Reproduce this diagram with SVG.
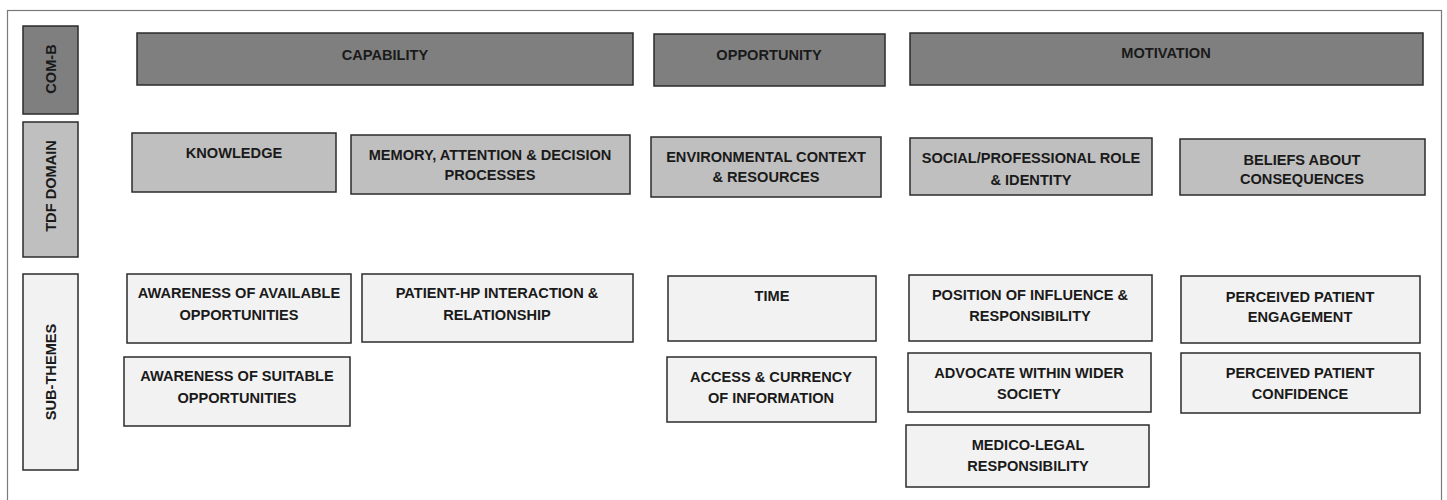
<svg xmlns="http://www.w3.org/2000/svg" width="1447" height="500" viewBox="0 0 1447 500">
<style>
text{font-family:"Liberation Sans",Arial,sans-serif;font-weight:bold;font-size:14.6px;fill:#1a1a1a;text-anchor:middle}
.frame{fill:#fff;stroke:#7a7a7a;stroke-width:1.2}
.comb{fill:#7f7f7f;stroke:#2b2b2b;stroke-width:1.5}
.tdf{fill:#bfbfbf;stroke:#2b2b2b;stroke-width:1.5}
.sub{fill:#f2f2f2;stroke:#2b2b2b;stroke-width:1.5}
</style>
<rect width="1447" height="500" fill="#fff"/>
<rect class="frame" x="7.5" y="10.5" width="1434" height="500"/>

<g id="row-labels">
<g id="label-comb"><rect class="comb" x="23" y="26" width="55" height="88"/><text transform="translate(56,69) rotate(-90)">COM-B</text></g>
<g id="label-tdf"><rect class="tdf" x="23" y="122" width="55" height="135"/><text transform="translate(56,186) rotate(-90)">TDF DOMAIN</text></g>
<g id="label-sub"><rect class="sub" x="23" y="274" width="55" height="196"/><text transform="translate(56,372) rotate(-90)">SUB-THEMES</text></g>
</g>

<g id="comb-row">
<g id="capability"><rect class="comb" x="137" y="33" width="496" height="52"/><text x="385" y="60">CAPABILITY</text></g>
<g id="opportunity"><rect class="comb" x="654" y="34" width="231" height="52"/><text x="769" y="60">OPPORTUNITY</text></g>
<g id="motivation"><rect class="comb" x="910" y="33" width="513" height="52"/><text x="1166" y="58">MOTIVATION</text></g>
</g>

<g id="tdf-row">
<g id="knowledge"><rect class="tdf" x="132" y="133" width="204" height="59"/><text x="234" y="158">KNOWLEDGE</text></g>
<g id="memory"><rect class="tdf" x="351" y="135" width="279" height="59"/><text x="490" y="160">MEMORY, ATTENTION &amp; DECISION</text><text x="490" y="180">PROCESSES</text></g>
<g id="environmental"><rect class="tdf" x="651" y="137" width="230" height="60"/><text x="766" y="162">ENVIRONMENTAL CONTEXT</text><text x="766" y="182">&amp; RESOURCES</text></g>
<g id="social"><rect class="tdf" x="910" y="138" width="242" height="57"/><text x="1031" y="163">SOCIAL/PROFESSIONAL ROLE</text><text x="1031" y="185">&amp; IDENTITY</text></g>
<g id="beliefs"><rect class="tdf" x="1180" y="139" width="245" height="56"/><text x="1302" y="165">BELIEFS ABOUT</text><text x="1302" y="184">CONSEQUENCES</text></g>
</g>

<g id="sub-row">
<g id="aware-available"><rect class="sub" x="127" y="274" width="224" height="69"/><text x="239" y="298">AWARENESS OF AVAILABLE</text><text x="239" y="320">OPPORTUNITIES</text></g>
<g id="patient-hp"><rect class="sub" x="362" y="274" width="271" height="68"/><text x="497" y="298">PATIENT-HP INTERACTION &amp;</text><text x="497" y="320">RELATIONSHIP</text></g>
<g id="aware-suitable"><rect class="sub" x="124" y="357" width="226" height="69"/><text x="237" y="381">AWARENESS OF SUITABLE</text><text x="237" y="403">OPPORTUNITIES</text></g>
<g id="time"><rect class="sub" x="668" y="276" width="208" height="65"/><text x="772" y="301">TIME</text></g>
<g id="access"><rect class="sub" x="667" y="357" width="209" height="65"/><text x="771" y="382">ACCESS &amp; CURRENCY</text><text x="771" y="403">OF INFORMATION</text></g>
<g id="position"><rect class="sub" x="909" y="275" width="243" height="66"/><text x="1030" y="300">POSITION OF INFLUENCE &amp;</text><text x="1030" y="321">RESPONSIBILITY</text></g>
<g id="advocate"><rect class="sub" x="908" y="353" width="243" height="59"/><text x="1029" y="378">ADVOCATE WITHIN WIDER</text><text x="1029" y="399">SOCIETY</text></g>
<g id="medico"><rect class="sub" x="906" y="425" width="243" height="62"/><text x="1028" y="450">MEDICO-LEGAL</text><text x="1028" y="471">RESPONSIBILITY</text></g>
<g id="engagement"><rect class="sub" x="1181" y="276" width="239" height="67"/><text x="1300" y="302">PERCEIVED PATIENT</text><text x="1300" y="322">ENGAGEMENT</text></g>
<g id="confidence"><rect class="sub" x="1181" y="353" width="239" height="60"/><text x="1300" y="378">PERCEIVED PATIENT</text><text x="1300" y="399">CONFIDENCE</text></g>
</g>

<g id="connectors"></g>
</svg>
